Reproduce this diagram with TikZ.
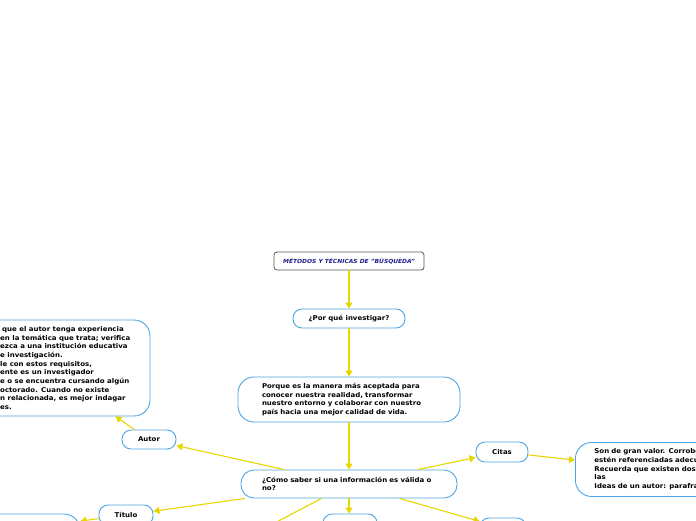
\documentclass[tikz,border=0pt]{standalone}
\usepackage{fontspec}
\setmainfont{DejaVu Sans}[FakeStretch=1.06]
\usetikzlibrary{arrows.meta}
\definecolor{bblue}{HTML}{4DA6E3}
\definecolor{cyel}{HTML}{E8D600}
\definecolor{navy}{HTML}{1E1E8C}
\definecolor{tgray}{HTML}{555555}
\tikzset{
  mapfont/.style={font=\fontsize{6.6}{8.7}\selectfont\bfseries},
  bubble/.style={draw=bblue, line width=0.9pt, rounded corners=9pt, fill=white, inner sep=0pt, text=black, mapfont},
  bigbubble/.style={bubble, rounded corners=16pt},
  titlebox/.style={draw=tgray, line width=0.8pt, rounded corners=3pt, fill=white, inner sep=0pt, text=navy,
    font=\fontsize{5.6}{7}\selectfont\bfseries\itshape},
  plaintext/.style={inner sep=0pt, align=left, text=black, mapfont},
  conn/.style={draw=cyel, line width=1.1pt, -{Triangle[length=6pt,width=7pt]}}
}
\begin{document}
\begin{tikzpicture}[x=1pt,y=-1pt]
\clip (0,0) rectangle (696,520);
\fill[white] (0,0) rectangle (696,520);
% nodes
\node[titlebox, minimum width=150pt, minimum height=18pt] (title) at (349,261) {MÉTODOS Y TÉCNICAS DE "BÚSQUEDA"};
\node[bubble, minimum width=112pt, minimum height=19pt] (por) at (349,318.5) {¿Por qué investigar?};
\node[bigbubble, minimum width=222pt, minimum height=45pt, text width=174pt, align=left] (porque) at (349,399.5)
  {Porque es la manera más aceptada para\\conocer nuestra realidad, transformar\\nuestro entorno y colaborar con nuestro\\país hacia una mejor calidad de vida.};
\node[bigbubble, rounded corners=13pt, minimum width=216pt, minimum height=28pt, text width=174pt, align=left] (como) at (349,484)
  {¿Cómo saber si una información es válida o\\no?};
\node[bubble, minimum width=54pt, minimum height=19pt] (autor) at (149,439.5) {Autor};
\node[bubble, minimum width=52pt, minimum height=20pt] (citas) at (502,452) {Citas};
\node[bubble, minimum width=54pt, minimum height=20pt] (titulo) at (126,515) {Título};
\node[bubble, minimum width=54pt, minimum height=20pt] (bcenter) at (350,524) {};
\node[bigbubble, minimum width=150pt, minimum height=34pt] (bleft) at (5,531) {};
\node[bubble, minimum width=46pt, minimum height=20pt] (bright) at (503,528) {};
\node[bigbubble, minimum width=150pt, minimum height=40pt] (bhidden) at (149,589) {};
\node[bigbubble, minimum width=210pt, minimum height=96pt] (lbox) at (45,368) {};
\node[plaintext, anchor=west] (ltext) at (0,368)
  {\hspace{2pt}que el autor tenga experiencia\\en la temática que trata; verifica\\ezca a una institución educativa\\e investigación.\\le con estos requisitos,\\ente es un investigador\\e o se encuentra cursando algún\\octorado. Cuando no existe\\n relacionada, es mejor indagar\\es.};
\node[bigbubble, anchor=north west, minimum width=150pt, minimum height=54pt, text width=130pt, inner xsep=19pt, align=left] (rbox) at (575,442)
  {Son de gran valor. Corrobo\\estén referenciadas adecu\\Recuerda que existen dos\\las\\Ideas de un autor: parafra};
% connectors
\draw[conn] (title) -- (por);
\draw[conn] (por) -- (porque);
\draw[conn] (porque) -- (como);
\draw[conn] (como) -- (autor);
\draw[conn] (como) -- (citas);
\draw[conn] (como) -- (titulo);
\draw[conn] (como.south) -- (como.south |- bcenter.north);
\draw[conn] (como) -- (bright);
\draw[conn] (como) -- (bhidden);
\draw[conn] (autor) -- (lbox);
\draw[conn] (citas) -- (rbox);
\draw[conn] (titulo) -- (bleft);
\end{tikzpicture}
\end{document}
